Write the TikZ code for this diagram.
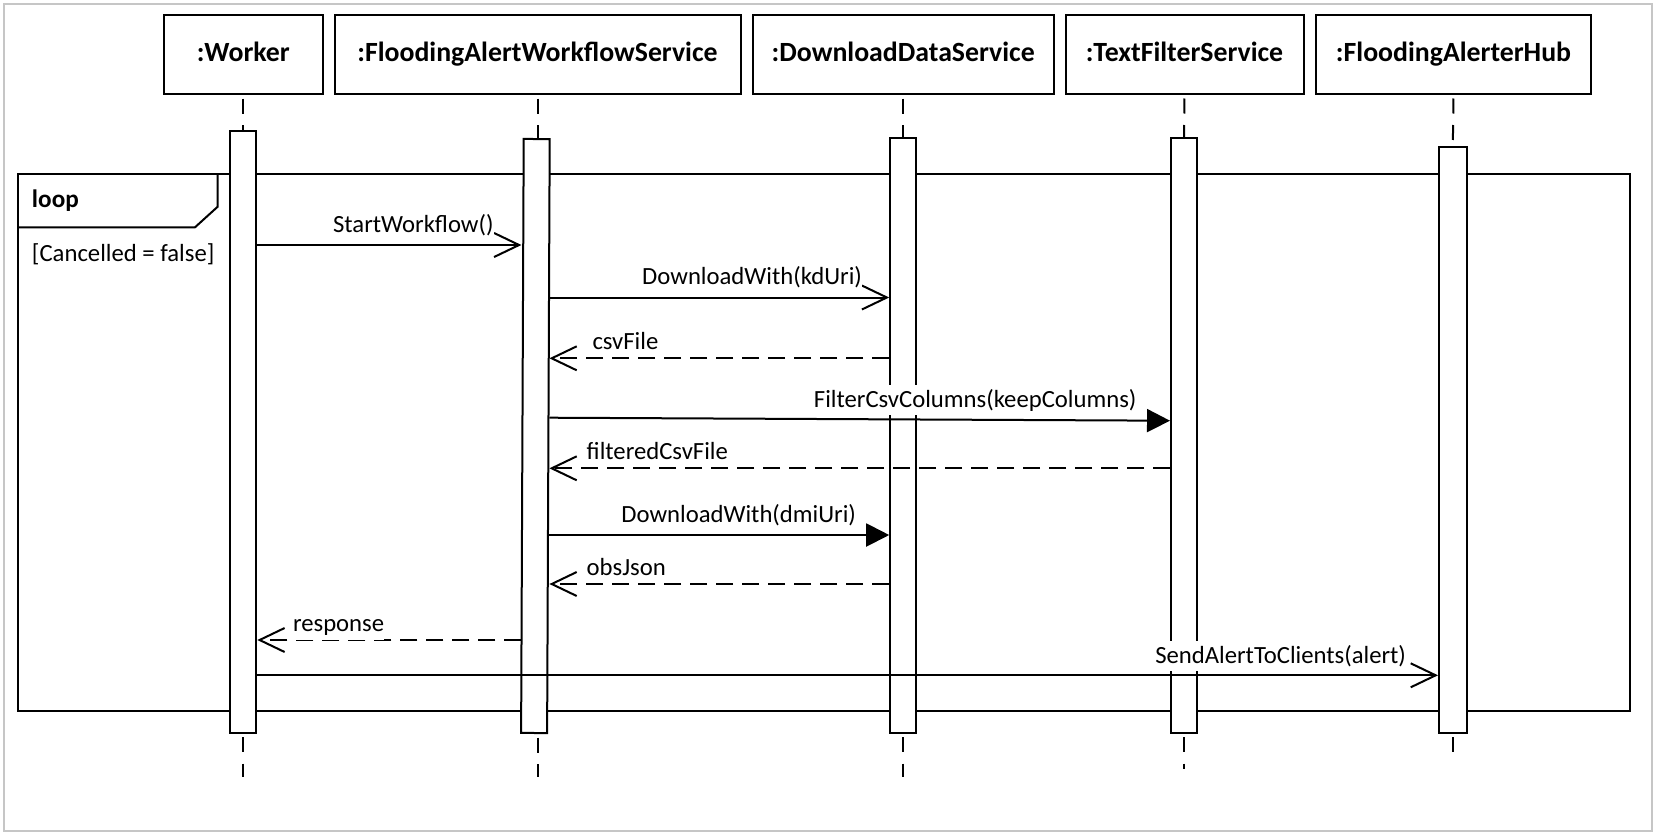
\documentclass[tikz,border=0pt]{standalone}
\usepackage{fontspec}
\setmainfont{Carlito}
\usetikzlibrary{arrows.meta}
\begin{document}
\begin{tikzpicture}[x=0.5pt,y=-0.5pt,line width=1pt,
  objbox/.style={draw, line width=1pt, minimum height=39.5pt, inner sep=0pt,
    font=\fontsize{13.9}{16}\selectfont\bfseries, text height=9pt, text depth=1.7pt},
  actbar/.style={draw, fill=white, line width=1pt, minimum width=13pt, inner sep=0pt},
  lifeline/.style={line width=1pt, dash pattern=on 7.5pt off 5.75pt, dash phase=11.5pt},
  call/.style={-{Straight Barb[length=12.5pt,width=12pt]}},
  sync/.style={-{Triangle[length=11.5pt,width=11.5pt]}},
  reply/.style={dash pattern=on 8.5pt off 4.5pt, -{Straight Barb[length=12.5pt,width=12pt]}},
  msglabel/.style={font=\fontsize{12.35}{15}\selectfont, fill=white, inner xsep=0pt, inner ysep=2pt},
  plaintext/.style={font=\fontsize{12.35}{15}\selectfont, inner sep=0pt},
]
\useasboundingbox (0,0) rectangle (1657,835);
\fill[white] (0,0) rectangle (1657,835);
\draw[gray!45, line width=0.75pt] (4,4) rectangle (1652,831);

% combined fragment: loop
\draw (18,174) rectangle (1630,710.7);
\draw (18,227.3) -- (195,227.3) -- (217.7,206.7) -- (217.7,174);
\node[plaintext, font=\fontsize{12.6}{15}\selectfont\bfseries, anchor=base west] (looptag) at (31,207.5) {loop};
\node[plaintext, anchor=base west] (guard) at (31,261) {[Cancelled = false]};

% participants
\node[objbox, minimum width=79.7pt]  (w) at (243.3,54.5) {:Worker};
\node[objbox, minimum width=203pt]   (f) at (537.5,54.5) {:FloodingAlertWorkflowService};
\node[objbox, minimum width=150.6pt] (d) at (903.2,54.5) {:DownloadDataService};
\node[objbox, minimum width=119pt]   (t) at (1184.5,54.5) {:TextFilterService};
\node[objbox, minimum width=137.5pt] (h) at (1453.5,54.5) {:FloodingAlerterHub};

% activation bars (placement only, drawn after the lifelines)
\path
  node[actbar, minimum height=301pt, opacity=0] (aw) at (243.3,431.7) {}
  node[actbar, minimum height=297pt, rotate=-0.25, opacity=0] (af) at (535.4,436) {}
  node[actbar, minimum height=297.35pt, opacity=0] (ad) at (903.2,435.3) {}
  node[actbar, minimum height=297.35pt, opacity=0] (at) at (1184,435.3) {}
  node[actbar, minimum width=13.8pt, minimum height=292.85pt, opacity=0] (ah) at (1452.8,439.8) {};

% lifelines
\draw[lifeline] (w.south) -- (aw.north);
\draw[lifeline] (f.south) -- (f.south |- af.north);
\draw[lifeline] (d.south) -- (ad.north);
\draw[lifeline] (t.south) -- (at.north);
\draw[lifeline] (h.south) -- (ah.north);
\draw[lifeline] (aw.south) -- (aw.south |- 0,777);
\draw[lifeline] (f.south |- af.south) -- (f.south |- 0,777);
\draw[lifeline] (ad.south) -- (ad.south |- 0,777);
\draw[lifeline] (at.south) -- (at.south |- 0,769);
\draw[lifeline] (ah.south) -- (ah.south |- 0,754);

% activation bars
\node[actbar, minimum height=301pt] at (aw) {};
\node[actbar, minimum height=297pt, rotate=-0.25] at (af) {};
\node[actbar, minimum height=297.35pt] at (ad) {};
\node[actbar, minimum height=297.35pt] at (at) {};
\node[actbar, minimum width=13.8pt, minimum height=292.85pt] at (ah) {};

% messages
\draw[call]  (aw.east |- 0,245)   -- (af.west |- 0,245);
\draw[call]  (af.east |- 0,297.5) -- (ad.west |- 0,297.5);
\draw[reply] (ad.west |- 0,358.3) -- (af.east |- 0,358.3);
\draw[sync]  (af.east |- 0,417.7) -- (at.west |- 0,420.7);
\draw[reply] (at.west |- 0,468.3) -- (af.east |- 0,468.3);
\draw[sync]  (af.east |- 0,535)   -- (ad.west |- 0,535);
\draw[reply] (ad.west |- 0,584)   -- (af.east |- 0,584);
\draw[reply] (af.west |- 0,640)   -- (aw.east |- 0,640);
\draw[call]  (aw.east |- 0,675.3) -- (ah.west |- 0,675.3);

% message labels
\node[msglabel, anchor=base east] (m1) at (494.6,232.5) {StartWorkflow()};
\node[msglabel, anchor=base east] (m2) at (863,284) {DownloadWith(kdUri)};
\node[msglabel, anchor=base west] (m3) at (591.5,349) {csvFile};
\node[msglabel, anchor=base east] (m4) at (1137.5,407.5) {FilterCsvColumns(keepColumns)};
\node[msglabel, anchor=base west] (m5) at (585.7,459.5) {filteredCsvFile};
\node[msglabel, anchor=base east] (m6) at (857,522.5) {DownloadWith(dmiUri)};
\node[msglabel, anchor=base west] (m7) at (585.7,575) {obsJson};
\node[msglabel, anchor=base west] (m8) at (292,631.7) {response};
\node[msglabel, anchor=base east] (m9) at (1407,663.3) {SendAlertToClients(alert)};
\end{tikzpicture}
\end{document}
